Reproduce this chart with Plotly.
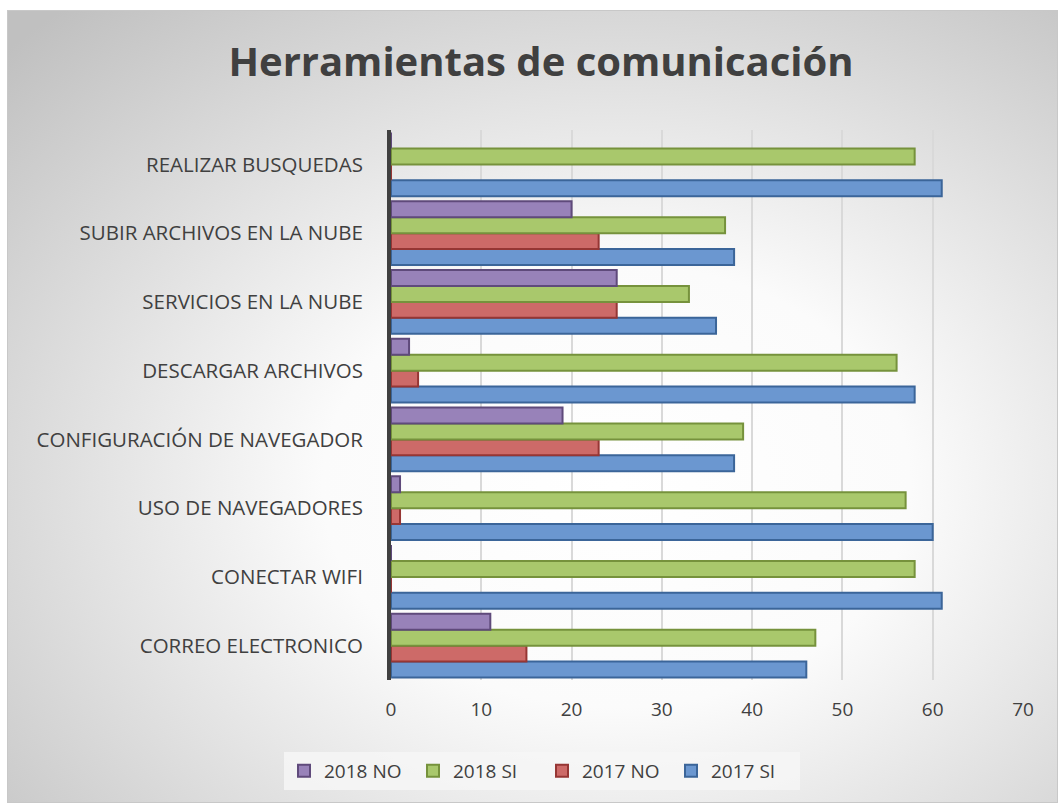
import base64
import plotly.graph_objects as go

# categories bottom -> top
categorias = [
    'CORREO ELECTRONICO', 'CONECTAR WIFI', 'USO DE NAVEGADORES',
    'CONFIGURACIÓN DE NAVEGADOR', 'DESCARGAR ARCHIVOS', 'SERVICIOS EN LA NUBE',
    'SUBIR ARCHIVOS EN LA NUBE', 'REALIZAR BUSQUEDAS',
]
si_2017 = [46, 61, 60, 38, 58, 36, 38, 61]
no_2017 = [15, 0, 1, 23, 3, 25, 23, 0]
si_2018 = [47, 58, 57, 39, 56, 33, 37, 58]
no_2018 = [11, 0, 1, 19, 2, 25, 20, 0]
x_ticks = [0, 10, 20, 30, 40, 50, 60, 70]

series = [
    ('2017 SI', si_2017, '#6b97d0', '#3b6599'),
    ('2017 NO', no_2017, '#cd6a68', '#963634'),
    ('2018 SI', si_2018, '#a9c86c', '#76923c'),
    ('2018 NO', no_2018, '#9882b9', '#5f4a7b'),
]

W, H = 1063, 803
L, R, T, B = 391, 40, 130, 123
pw, ph = W - L - R, H - T - B


def px_x(p):
    return (p - L) / pw


def px_y(p):
    return (H - B - p) / ph


fig = go.Figure()
for name, vals, fill, edge in series:
    fig.add_trace(go.Bar(
        y=categorias, x=vals, name=name, orientation='h',
        marker=dict(color=fill, line=dict(color=edge, width=2)),
    ))

# soft grey gradient background of the chart box
svg = ('<svg xmlns="http://www.w3.org/2000/svg" width="1051" height="793" preserveAspectRatio="none">'
       '<defs><radialGradient id="g" cx="0.58" cy="0.6" r="0.8">'
       '<stop offset="0" stop-color="#ffffff"/><stop offset="0.35" stop-color="#fbfbfb"/>'
       '<stop offset="1" stop-color="#c0c0c0"/></radialGradient></defs>'
       '<rect x="0.5" y="0.5" width="1050" height="792" fill="url(#g)" stroke="#c8c8c8"/></svg>')
src = 'data:image/svg+xml;base64,' + base64.b64encode(svg.encode()).decode()
fig.add_layout_image(dict(
    source=src, xref='paper', yref='paper',
    x=px_x(7), y=px_y(10), sizex=px_x(1058) - px_x(7), sizey=px_y(10) - px_y(803),
    xanchor='left', yanchor='top', sizing='stretch', layer='below',
))

fig.update_layout(
    width=W, height=H,
    margin=dict(l=L, r=R, t=T, b=B),
    paper_bgcolor='white', plot_bgcolor='rgba(0,0,0,0)',
    barmode='group', bargap=0.07, bargroupgap=0,
    font=dict(family='Open Sans, sans-serif', color='#404040'),
    title=dict(text='<b>Herramientas de comunicación</b>', x=541 / W, xref='container',
               xanchor='center', y=1 - 62 / H, yref='container', yanchor='middle',
               font=dict(size=40, color='#404040')),
    legend=dict(orientation='h', traceorder='reversed',
                x=px_x(542), xanchor='center', y=px_y(771), yanchor='middle',
                bgcolor='rgba(246,246,246,0.85)', font=dict(size=19, color='#404040'),
                itemwidth=30, entrywidth=84),
    xaxis=dict(range=[0, 70], tickvals=x_ticks, showgrid=True, gridcolor='#d9d9d9',
               gridwidth=2, zeroline=False, showline=False, ticks='',
               ticklabelstandoff=16, tickfont=dict(size=19, color='#404040')),
    yaxis=dict(showline=True, linecolor='#404040', linewidth=4, showgrid=False,
               ticks='', ticklabelstandoff=20, tickfont=dict(size=20.5, color='#404040')),
)

fig.write_html('out.html', config={'displayModeBar': False},
               post_script="document.body.style.margin='0';")
